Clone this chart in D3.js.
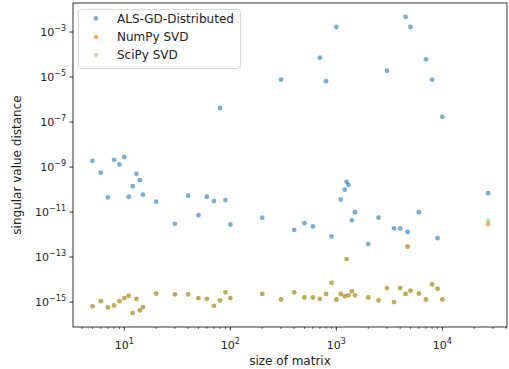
<!DOCTYPE html>
<html>
<head>
<meta charset="utf-8">
<script src="https://cdn.jsdelivr.net/npm/d3@7"></script>
<style>
  body { margin: 0; background: #fff; }
  svg { font-family: "DejaVu Sans", sans-serif; }
</style>
</head>
<body>
<svg id="chart" width="509" height="369"></svg>
<script>
// matrix sizes (x)
const sizes = [5, 6, 7, 8, 9, 10, 11, 12, 13, 14, 15, 20, 30, 40, 50, 60, 70, 80, 90, 100,
  200, 300, 400, 500, 600, 700, 800, 900, 1000, 1100, 1200, 1250, 1300, 1400, 1500,
  2000, 2500, 3000, 3500, 4000, 4500, 4700, 5000, 6000, 7000, 8000, 9000, 10000, 27000];

const alsDist = [1.9e-9, 5.6e-10, 4.5e-11, 2.1e-9, 1.3e-9, 2.8e-9, 4.8e-11, 1.4e-10, 5e-10, 2.6e-10,
  5.9e-11, 2.9e-11, 3e-12, 5.3e-11, 7.3e-12, 4.8e-11, 3.1e-11, 4.2e-7, 3.4e-11, 2.8e-12,
  5.6e-12, 7.6e-6, 1.6e-12, 3.2e-12, 2.3e-12, 7.2e-5, 6.5e-6, 8.3e-13, 1.67e-3, 3.6e-11,
  9.8e-11, 2.2e-10, 1.6e-10, 4.3e-12, 9.8e-12, 3.8e-13, 5.6e-12, 1.9e-5, 1.9e-12, 1.9e-12,
  4.7e-3, 1.3e-12, 1.67e-3, 9.8e-12, 6.1e-5, 7.6e-6, 6.9e-13, 1.7e-7, 6.9e-11];

const numpyDist = [6.5e-16, 1.1e-15, 5.8e-16, 7.1e-16, 1.1e-15, 1.5e-15, 1.9e-15, 3.3e-16, 1.4e-15, 4.3e-16,
  6e-16, 2.4e-15, 2.2e-15, 2.2e-15, 1.5e-15, 1.4e-15, 6.8e-16, 1.2e-15, 2.7e-15, 1.5e-15,
  2.3e-15, 1.3e-15, 2.7e-15, 1.6e-15, 1.6e-15, 1.4e-15, 2.3e-15, 7.2e-15, 1.3e-15, 2.3e-15,
  1.85e-15, 8.1e-14, 2e-15, 3e-15, 2e-15, 1.6e-15, 1.2e-15, 4.2e-15, 1e-15, 4.2e-15,
  2.3e-15, 2.9e-13, 3.2e-15, 2.4e-15, 1.3e-15, 6.1e-15, 3.9e-15, 1.3e-15, 2.9e-12];

const scipyDist = [6.5e-16, 1.1e-15, 5.8e-16, 7.1e-16, 1.1e-15, 1.5e-15, 1.9e-15, 3.3e-16, 1.4e-15, 4.3e-16,
  6e-16, 2.4e-15, 2.2e-15, 2.2e-15, 1.5e-15, 1.4e-15, 6.8e-16, 1.2e-15, 2.7e-15, 1.5e-15,
  2.3e-15, 1.3e-15, 2.7e-15, 1.6e-15, 1.6e-15, 1.4e-15, 2.3e-15, 7.2e-15, 1.3e-15, 2.3e-15,
  1.85e-15, 8.1e-14, 2e-15, 3e-15, 2e-15, 1.6e-15, 1.2e-15, 4.2e-15, 1e-15, 4.2e-15,
  2.3e-15, 2.9e-13, 3.2e-15, 2.4e-15, 1.3e-15, 6.1e-15, 3.9e-15, 1.3e-15, 4.1e-12];

const seriesNames = ["ALS-GD-Distributed", "NumPy SVD", "SciPy SVD"];
const xTickValues = [10, 100, 1000, 10000];
const yTickExps = [-15, -13, -11, -9, -7, -5, -3];

const series = [
  { name: seriesNames[0], values: alsDist, color: "#1f77b4", alpha: 0.6 },
  { name: seriesNames[1], values: numpyDist, color: "#ff7f0e", alpha: 0.6 },
  { name: seriesNames[2], values: scipyDist, color: "#2ca02c", alpha: 0.3 }
];

const svg = d3.select("#chart");
const plotLeft = 73, plotRight = 507, plotTop = 3, plotBottom = 327;

const x = d3.scaleLog().domain([3.28, 40700]).range([plotLeft, plotRight]);
const y = d3.scaleLog().domain([7.8e-17, 1.95e-2]).range([plotBottom, plotTop]);

// points
series.forEach(s => {
  svg.append("g")
    .selectAll("circle")
    .data(sizes.map((v, i) => [v, s.values[i]]))
    .enter()
    .append("circle")
    .attr("cx", d => x(d[0]))
    .attr("cy", d => y(d[1]))
    .attr("r", 2.4)
    .attr("fill", s.color)
    .attr("fill-opacity", s.alpha);
});

// frame
svg.append("rect")
  .attr("x", plotLeft).attr("y", plotTop)
  .attr("width", plotRight - plotLeft).attr("height", plotBottom - plotTop)
  .attr("fill", "none").attr("stroke", "#000").attr("stroke-width", 0.8);

// x axis ticks
const xMinor = [];
for (let e = 0; e <= 4; e++) {
  for (let m = 2; m <= 9; m++) {
    const v = m * Math.pow(10, e);
    if (v >= x.domain()[0] && v <= x.domain()[1]) xMinor.push(v);
  }
}
svg.append("g").selectAll("line").data(xMinor).enter().append("line")
  .attr("x1", d => x(d)).attr("x2", d => x(d))
  .attr("y1", plotBottom).attr("y2", plotBottom + 2)
  .attr("stroke", "#000").attr("stroke-width", 0.6);

const xt = svg.append("g").selectAll("g").data(xTickValues).enter().append("g")
  .attr("transform", d => `translate(${x(d)},${plotBottom})`);
xt.append("line").attr("y2", 3.5).attr("stroke", "#000").attr("stroke-width", 0.8);
const xl = xt.append("text")
  .attr("y", 22).attr("text-anchor", "middle")
  .attr("font-size", 11).attr("fill", "#222");
xl.append("tspan").text("10");
xl.append("tspan").attr("dy", -5).attr("font-size", 8).text(d => Math.round(Math.log10(d)));

// y axis ticks
const yt = svg.append("g").selectAll("g").data(yTickExps).enter().append("g")
  .attr("transform", d => `translate(${plotLeft},${y(Math.pow(10, d))})`);
yt.append("line").attr("x2", -3.5).attr("stroke", "#000").attr("stroke-width", 0.8);
const yl = yt.append("text")
  .attr("x", -7).attr("y", 4).attr("text-anchor", "end")
  .attr("font-size", 11).attr("fill", "#222");
yl.append("tspan").text("10");
yl.append("tspan").attr("dy", -5).attr("font-size", 8).text(d => "\u2212" + Math.abs(d));

// axis labels
svg.append("text")
  .attr("x", (plotLeft + plotRight) / 2).attr("y", 365)
  .attr("text-anchor", "middle").attr("font-size", 12).attr("fill", "#222")
  .text("size of matrix");
svg.append("text")
  .attr("transform", `translate(21,${(plotTop + plotBottom) / 2}) rotate(-90)`)
  .attr("text-anchor", "middle").attr("font-size", 12).attr("fill", "#222")
  .text("singular value distance");

// legend
const lg = svg.append("g");
lg.append("rect")
  .attr("x", 78.5).attr("y", 9.5).attr("width", 162).attr("height", 59).attr("rx", 3)
  .attr("fill", "#fff").attr("fill-opacity", 0.8)
  .attr("stroke", "#ccc").attr("stroke-width", 0.8);
series.forEach((s, i) => {
  const yy = 18.5 + i * 18.3;
  lg.append("circle").attr("cx", 96).attr("cy", yy).attr("r", 2.4)
    .attr("fill", s.color).attr("fill-opacity", s.alpha);
  lg.append("text").attr("x", 117).attr("y", yy + 4.3)
    .attr("font-size", 12).attr("fill", "#222").text(s.name);
});
</script>
</body>
</html>
